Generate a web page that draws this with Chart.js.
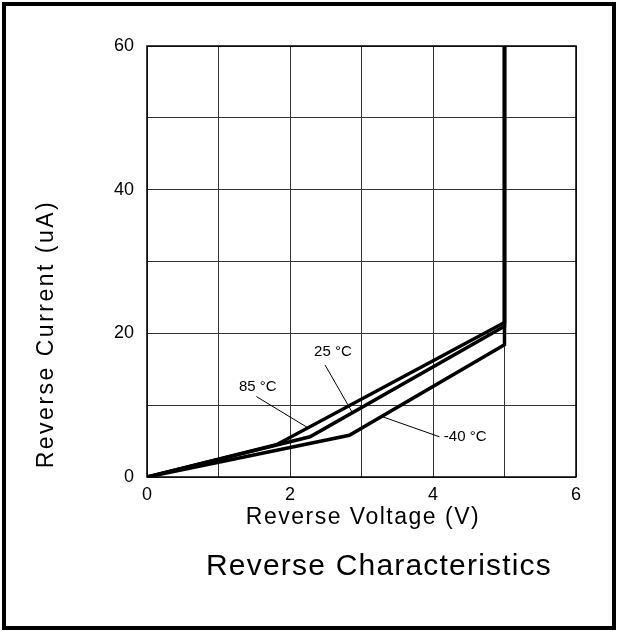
<!DOCTYPE html>
<html>
<head>
<meta charset="utf-8">
<script src="https://cdn.jsdelivr.net/npm/chart.js@4.4.0/dist/chart.umd.min.js"></script>
<style>
html,body{margin:0;padding:0;background:#fff;}
#wrap{position:relative;width:618px;height:632px;}
</style>
</head>
<body>
<div id="wrap"><canvas id="revChart"></canvas></div>
<script>
// reverse current curves, V -> uA
var v85 = [0, 1.81, 5, 5];
var i85 = [0, 4.5, 21.5, 60];
var v25 = [0, 2.28, 5, 5];
var i25 = [0, 5.6, 21, 60];
var vm40 = [0, 2.83, 5, 5];
var im40 = [0, 5.8, 18.4, 60];

var xTicks = [0, 2, 4, 6];
var yTicks = [0, 20, 40, 60];

// curve labels with leader lines (data units)
var curveNames = ["85 °C", "25 °C", "-40 °C"];
var labelAt = [[1.55, 12.5], [2.6, 17.4], [4.45, 5.6]];
var leadFrom = [[1.53, 11.2], [2.49, 15.6], [3.29, 8.4]];
var leadTo = [[2.25, 6.85], [2.87, 9.0], [4.09, 5.6]];

var FONT = "'Liberation Sans', Arial, sans-serif";

function pts(xs, ys){
    var out = [];
    for (var i = 0; i < xs.length; i++) out.push({x: xs[i], y: ys[i]});
    return out;
}

function curve(label, xs, ys){
    return {
        label: label,
        data: pts(xs, ys),
        showLine: true,
        borderColor: "#000",
        borderWidth: 3.5,
        pointRadius: 0,
        fill: false,
        tension: 0
    };
}

var extras = {
    id: "extras",
    afterDatasetsDraw: function(chart){
        var ctx = chart.ctx, sx = chart.scales.x, sy = chart.scales.y;
        ctx.save();
        ctx.strokeStyle = "#000";
        ctx.lineWidth = 1;
        for (var i = 0; i < curveNames.length; i++){
            ctx.beginPath();
            ctx.moveTo(sx.getPixelForValue(leadFrom[i][0]), sy.getPixelForValue(leadFrom[i][1]));
            ctx.lineTo(sx.getPixelForValue(leadTo[i][0]), sy.getPixelForValue(leadTo[i][1]));
            ctx.stroke();
        }
        ctx.font = "15px " + FONT;
        ctx.textAlign = "center";
        ctx.textBaseline = "middle";
        for (var j = 0; j < curveNames.length; j++){
            var px = sx.getPixelForValue(labelAt[j][0]), py = sy.getPixelForValue(labelAt[j][1]);
            ctx.fillStyle = "#fff";
            var w = ctx.measureText(curveNames[j]).width;
            ctx.fillRect(px - w/2 - 1, py - 8, w + 2, 16);
            ctx.fillStyle = "#000";
            ctx.fillText(curveNames[j], px, py);
        }
        ctx.restore();
    },
    afterDraw: function(chart){
        var ctx = chart.ctx, a = chart.chartArea;
        ctx.save();
        // plot frame
        ctx.strokeStyle = "#000";
        ctx.lineWidth = 1.5;
        ctx.strokeRect(a.left, a.top, a.right - a.left, a.bottom - a.top);
        // axis titles
        ctx.fillStyle = "#000";
        ctx.textAlign = "center";
        ctx.textBaseline = "middle";
        ctx.font = "23px " + FONT;
        ctx.letterSpacing = "1.5px";
        ctx.fillText("Reverse Voltage (V)", 363, 518);
        ctx.save();
        ctx.translate(47, 334);
        ctx.rotate(-Math.PI / 2);
        ctx.letterSpacing = "2.5px";
        ctx.fillText("Reverse Current (uA)", 0, 0);
        ctx.restore();
        ctx.font = "30px " + FONT;
        ctx.letterSpacing = "1.2px";
        ctx.fillText("Reverse Characteristics", 379, 567);
        ctx.letterSpacing = "0px";
        // outer frame
        ctx.lineWidth = 4;
        ctx.strokeRect(4, 4, 610, 624);
        ctx.restore();
    }
};

new Chart("revChart", {
    type: "scatter",
    data: {
        datasets: [
            curve(curveNames[0], v85, i85),
            curve(curveNames[1], v25, i25),
            curve(curveNames[2], vm40, im40)
        ]
    },
    options: {
        responsive: true,
        maintainAspectRatio: false,
        animation: false,
        layout: {padding: {top: 46, right: 42, bottom: 125, left: 0}},
        plugins: {
            legend: {display: false},
            tooltip: {enabled: false}
        },
        scales: {
            x: {
                type: "linear",
                min: 0,
                max: 6,
                afterFit: function(s){ s.height = 30; },
                grid: {color: "#333", lineWidth: 1, drawTicks: false},
                border: {display: false},
                ticks: {
                    stepSize: 1,
                    padding: 7,
                    color: "#000",
                    font: {size: 18, family: FONT},
                    maxRotation: 0,
                    autoSkip: false,
                    callback: function(v){ return xTicks.indexOf(v) >= 0 ? v : ""; }
                }
            },
            y: {
                type: "linear",
                min: 0,
                max: 60,
                afterFit: function(s){ s.width = 147; },
                grid: {color: "#333", lineWidth: 1, drawTicks: false},
                border: {display: false},
                ticks: {
                    stepSize: 10,
                    padding: 13,
                    color: "#000",
                    font: {size: 18, family: FONT},
                    autoSkip: false,
                    callback: function(v){ return yTicks.indexOf(v) >= 0 ? v : ""; }
                }
            }
        }
    },
    plugins: [extras]
});
</script>
</body>
</html>
